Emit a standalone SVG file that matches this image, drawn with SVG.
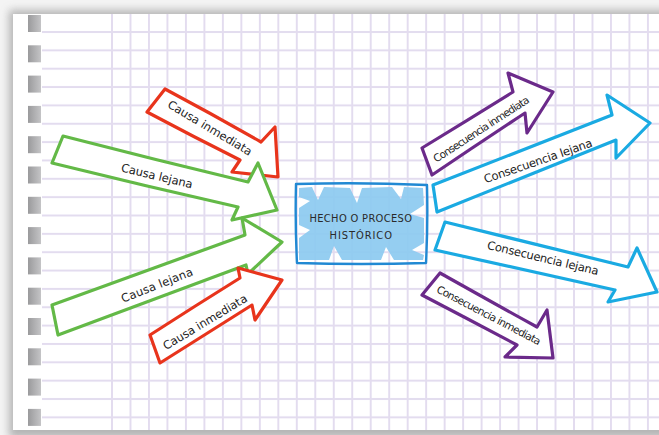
<svg xmlns="http://www.w3.org/2000/svg" width="659" height="435" viewBox="0 0 659 435">
  <defs>
    <filter id="soft" x="-10%" y="-10%" width="120%" height="120%">
      <feGaussianBlur stdDeviation="4"/>
    </filter>
    <linearGradient id="tab" x1="0" y1="0" x2="1" y2="0">
      <stop offset="0" stop-color="#9a9a9c"/>
      <stop offset="1" stop-color="#c4c4c6"/>
    </linearGradient>
    <pattern id="hlines" x="0" y="32" width="10" height="18.35" patternUnits="userSpaceOnUse">
      <rect x="0" y="-1" width="10" height="2" fill="#e3dcef"/>
      <rect x="0" y="17.35" width="10" height="2" fill="#e3dcef"/>
    </pattern>
    <pattern id="vlines" x="112" y="0" width="18.48" height="10" patternUnits="userSpaceOnUse">
      <rect x="-1" y="0" width="2" height="10" fill="#e3dcef"/>
      <rect x="17.48" y="0" width="2" height="10" fill="#e3dcef"/>
    </pattern>
  </defs>
  <style>
    .arrow { fill: #ffffff; stroke-width: 3.2; stroke-linejoin: round; stroke-linecap: round; }
    .red { stroke: #e8341c; }
    .green { stroke: #63b947; }
    .purple { stroke: #6b2a8a; }
    .blue { stroke: #1aaae2; }
    .lbl { font-family: "DejaVu Sans", "Liberation Sans", sans-serif; font-size: 11.5px; fill: #222222; text-anchor: middle; dominant-baseline: central; }
    .lbl.long { font-size: 10.5px; }
    .title { font-family: "DejaVu Sans Condensed", "DejaVu Sans", sans-serif; font-size: 11px; fill: #2a2a2a; text-anchor: middle; }
  </style>

  <!-- paper and its shadow -->
  <rect x="0" y="0" width="659" height="435" fill="#f4f4f4"/>
  <rect x="9" y="10" width="660" height="428" fill="#9a9a9a" filter="url(#soft)" opacity="0.7"/>
  <rect x="13" y="14" width="650" height="416" fill="#ffffff"/>

  <!-- squared ruling -->
  <rect x="42" y="31" width="620" height="399" fill="url(#hlines)"/>
  <rect x="111" y="14" width="552" height="416" fill="url(#vlines)"/>

  <!-- binding tabs -->
  <g fill="url(#tab)">
    <rect x="28" y="15" width="13" height="17"/>
    <rect x="28" y="45.3" width="13" height="17"/>
    <rect x="28" y="75.6" width="13" height="17"/>
    <rect x="28" y="105.9" width="13" height="17"/>
    <rect x="28" y="136.2" width="13" height="17"/>
    <rect x="28" y="166.5" width="13" height="17"/>
    <rect x="28" y="196.8" width="13" height="17"/>
    <rect x="28" y="227.1" width="13" height="17"/>
    <rect x="28" y="257.4" width="13" height="17"/>
    <rect x="28" y="287.7" width="13" height="17"/>
    <rect x="28" y="318" width="13" height="17"/>
    <rect x="28" y="348.3" width="13" height="17"/>
    <rect x="28" y="378.6" width="13" height="17"/>
    <rect x="28" y="408.9" width="13" height="17"/>
  </g>

  <!-- arrows -->
  <g id="connectors">
    <g id="causa-inmediata-1">
      <path class="arrow red" d="M147,112 L165,89 Q212,114 261,142 L275,127 L278,177 L232,172 L240,160 Q194,137 147,112 Z"/>
      <text class="lbl" transform="translate(210,128) rotate(30.8)" textLength="96">Causa inmediata</text>
    </g>
    <g id="causa-lejana-1">
      <path class="arrow green" d="M52,163 L63,136 Q156,160 248,182 L258,163 L277,210 L232,220 L238,207 Q145,186 52,163 Z"/>
      <text class="lbl" transform="translate(157,176) rotate(13.5)" textLength="73">Causa lejana</text>
    </g>
    <g id="causa-lejana-2">
      <path class="arrow green" d="M52,305 Q148,270 245,235 L242,218 L282,242 L248,274 L246,265 Q152,300 58,335 Z"/>
      <text class="lbl" transform="translate(157,285) rotate(-21.5)" textLength="76">Causa lejana</text>
    </g>
    <g id="causa-inmediata-2">
      <path class="arrow red" d="M150,335 Q195,306 240,278 L238,268 L282,280 L255,320 L252,305 Q206,334 160,363 Z"/>
      <text class="lbl" transform="translate(205,322) rotate(-31)" textLength="96">Causa inmediata</text>
    </g>
    <g id="consecuencia-inmediata-1">
      <path class="arrow purple" d="M422,148 Q468,120 513,92 L508,73 L553,92 L527,133 L525,113 Q478,144 432,175 Z"/>
      <text class="lbl long" transform="translate(481,129) rotate(-33)" textLength="112">Consecuencia inmediata</text>
    </g>
    <g id="consecuencia-lejana-1">
      <path class="arrow blue" d="M433,185 Q522,150 612,115 L607,95 L650,123 L616,158 L616,140 Q527,176 437,212 Z"/>
      <text class="lbl" transform="translate(538,161) rotate(-19)" textLength="114">Consecuencia lejana</text>
    </g>
    <g id="consecuencia-lejana-2">
      <path class="arrow blue" d="M445,222 Q536,244 628,267 L637,248 L657,292 L608,302 L615,290 Q525,270 435,250 Z"/>
      <text class="lbl" transform="translate(543,258) rotate(13.4)" textLength="114">Consecuencia lejana</text>
    </g>
    <g id="consecuencia-inmediata-2">
      <path class="arrow purple" d="M440,273 Q488,300 537,327 L547,310 L553,358 L505,357 L517,345 Q470,320 422,295 Z"/>
      <text class="lbl long" transform="translate(489,315) rotate(27.6)" textLength="116">Consecuencia inmediata</text>
    </g>
  </g>

  <!-- central event box: crayon fill with ragged white streaks -->
  <g id="hecho">
    <path d="M299,188 L312,187 L318,200 L324,187 L350,188 L357,203 L362,188 L392,187 L401,199 L404,187 L423,188 L424,205 L410,214 L424,218 L424,243 L412,250 L424,255 L423,260 L394,260 L386,247 L381,260 L342,260 L334,246 L329,260 L299,260 L299,238 L310,230 L299,225 L299,208 L310,201 L299,197 Z" fill="#8ccaf0" opacity="0.92"/>
    <path d="M296,184 Q362,182 427,185 Q428,224 426,263 Q361,265 297,263 Q295,224 296,184 Z" fill="none" stroke="#2189d3" stroke-width="2.4" stroke-linejoin="round"/>
    <text class="title" x="361" y="222" textLength="103" letter-spacing="0.5">HECHO O PROCESO</text>
    <text class="title" x="361" y="239" textLength="63" letter-spacing="0.5">HISTÓRICO</text>
  </g>
</svg>
